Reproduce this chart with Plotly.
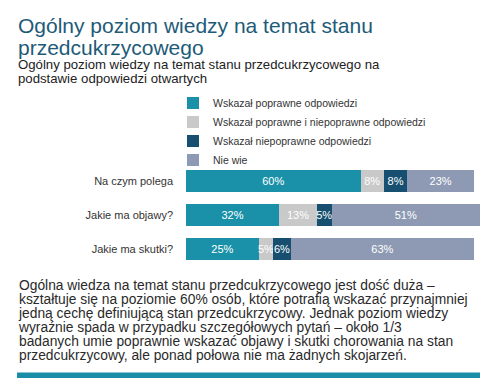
import plotly.graph_objects as go

categories = ["Na czym polega", "Jakie ma objawy?", "Jakie ma skutki?"]
series_names = ["Wskazał poprawne odpowiedzi", "Wskazał poprawne i niepoprawne odpowiedzi",
                "Wskazał niepoprawne odpowiedzi", "Nie wie"]
poprawne = [60, 32, 25]
mieszane = [8, 13, 5]
niepoprawne = [8, 5, 6]
nie_wie = [23, 51, 63]
colors = ["#1a91a9", "#c9c9c9", "#164f6f", "#8e9ab3"]

title_lines = ["Ogólny poziom wiedzy na temat stanu", "przedcukrzycowego"]
subtitle_lines = ["Ogólny poziom wiedzy na temat stanu przedcukrzycowego na",
                  "podstawie odpowiedzi otwartych"]
body_lines = [
    "Ogólna wiedza na temat stanu przedcukrzycowego jest dość duża –",
    "kształtuje się na poziomie 60% osób, które potrafią wskazać przynajmniej",
    "jedną cechę definiującą stan przedcukrzycowy. Jednak poziom wiedzy",
    "wyraźnie spada w przypadku szczegółowych pytań – około 1/3",
    "badanych umie poprawnie wskazać objawy i skutki chorowania na stan",
    "przedcukrzycowy, ale ponad połowa nie ma żadnych skojarzeń.",
]

W, H = 500, 385
L, R, T, B = 186, 20, 164, 119
PW, PH = W - L - R, H - T - B
FONT = "Liberation Sans"

def px(x):
    return (x - L) / PW

def py(y):
    return (H - B - y) / PH

fig = go.Figure()
for name, vals, col in zip(series_names, [poprawne, mieszane, niepoprawne, nie_wie], colors):
    fig.add_trace(go.Bar(
        y=categories, x=vals, name=name, orientation="h",
        marker=dict(color=col, line=dict(width=0)),
        text=[f"{v}%" for v in vals], textposition="inside", textangle=0,
        insidetextanchor="middle",
        textfont=dict(color="white", size=11, family=FONT),
        hoverinfo="skip",
    ))

def block(lines, x, y_mid, size, spacing, color):
    base = spacing / 1.3
    txt = "<br>".join(f"<span style='font-size:{size}px'>{ln}</span>" for ln in lines)
    return dict(text=txt, x=px(x), y=py(y_mid), xref="paper", yref="paper",
                xanchor="left", yanchor="middle", showarrow=False, align="left",
                borderpad=0, font=dict(size=base, color=color, family=FONT))

annotations = [
    block(title_lines, 17, 36, 21, 21.5, "#1d5b78"),
    block(subtitle_lines, 17, 71.5, 13.2, 13.8, "#222222"),
    block(body_lines, 17, 320, 13.8, 13.9, "#2a2a2a"),
]

fig.update_layout(
    width=W, height=H,
    margin=dict(l=L, r=R, t=T, b=B, pad=0),
    barmode="stack", bargap=0.35,
    paper_bgcolor="white", plot_bgcolor="white",
    font=dict(family=FONT, size=11, color="#333333"),
    showlegend=True,
    legend=dict(x=px(173), y=py(88.5), xanchor="left", yanchor="top",
                traceorder="normal", font=dict(size=10.5, color="#333333", family=FONT),
                itemwidth=30, tracegroupgap=0, bgcolor="rgba(0,0,0,0)"),
    xaxis=dict(range=[0, 101], visible=False, fixedrange=True),
    yaxis=dict(autorange="reversed", showgrid=False, showline=False, ticks="",
               tickfont=dict(size=11, color="#333333", family=FONT), ticklabelstandoff=12,
               fixedrange=True),
    uniformtext=dict(minsize=11, mode="show"),
    annotations=annotations,
    shapes=[dict(type="rect", xref="paper", yref="paper", x0=px(17), x1=px(480),
                 y0=py(372.5), y1=py(378), fillcolor="#1a8ea6", line=dict(width=0))],
)

fig.write_html("out.html", config={"displayModeBar": False},
               post_script="document.body.style.margin='0';")
